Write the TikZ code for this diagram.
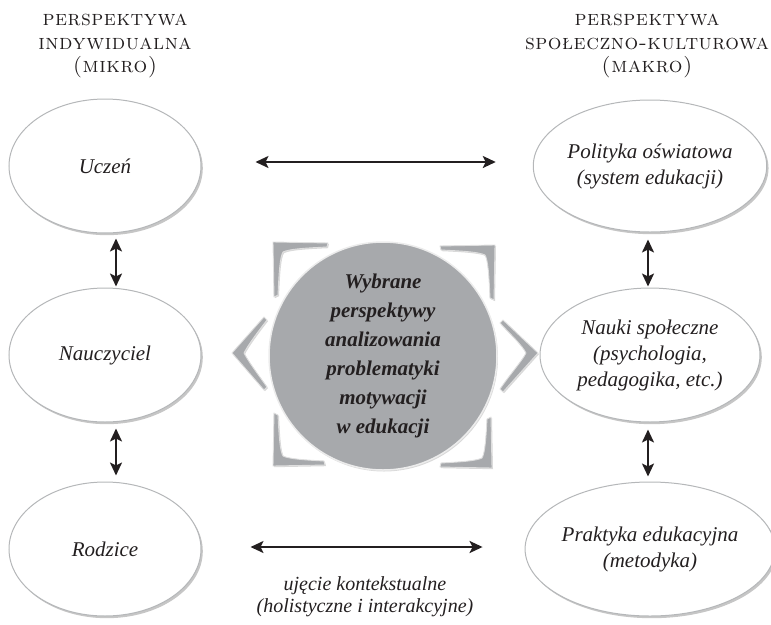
\documentclass[tikz,border=0pt]{standalone}
\usepackage{fontspec}
\setmainfont{Liberation Serif}
\usepackage{tikz}
\usetikzlibrary{shapes,shadows,arrows.meta}
\newfontfamily\headfont{lmromancaps10-regular}[Extension=.otf, LetterSpace=2.5]
\definecolor{discgray}{HTML}{A7A9AC}
\definecolor{rimgray}{HTML}{B5B7B9}
\definecolor{inkblack}{HTML}{231F20}
\tikzset{
  persp/.style={shape=ellipse, inner sep=0pt, fill=white, draw=rimgray, line width=1pt, align=center, text=inkblack,
    font=\itshape\fontsize{21}{26}\selectfont, drop shadow={shadow xshift=1.8pt, shadow yshift=-2.2pt, opacity=0.45}},
  heading/.style={align=center, text=inkblack, font=\headfont\fontsize{21.5}{23.5}\selectfont},
  twoway/.style={{Stealth[length=13pt,width=12pt,inset=3pt]}-{Stealth[length=13pt,width=12pt,inset=3pt]}, line width=2.2pt, draw=inkblack},
  boomerang/.style={fill=discgray, draw=white!75!gray, line width=0.9pt, line join=round,
    drop shadow={shadow xshift=1pt, shadow yshift=-1.2pt, opacity=0.3}}
}
\begin{document}
\begin{tikzpicture}[x=1pt, y=-1pt]
\useasboundingbox (0,0) rectangle (771,624);

% headings
\node[name=mikro, heading] at (115,46) {perspektywa\\indywidualna\\(mikro)};
\node[name=makro, heading] at (647,46) {perspektywa\\społeczno-kulturowa\\(makro)};

% left column
\node[name=uczen, persp, minimum width=192pt, minimum height=134pt] at (105,166) {Uczeń};
\node[name=nauczyciel, persp, minimum width=192pt, minimum height=134pt] at (105,355) {Nauczyciel};
\node[name=rodzice, persp, minimum width=192pt, minimum height=134pt] at (105,549) {Rodzice};

% right column
\node[name=polityka, persp, minimum width=220pt, minimum height=132pt] at (650,166) {Polityka oświatowa\\(system edukacji)};
\node[name=nauki, persp, minimum width=220pt, minimum height=134pt] at (650,355) {Nauki społeczne\\(psychologia,\\pedagogika, etc.)};
\node[name=praktyka, persp, minimum width=220pt, minimum height=134pt] at (650,549) {Praktyka edukacyjna\\(metodyka)};

% frame round the disc
\path[boomerang, shift={(273,242)}] (0,0) -- (55,1) -- (54,5) .. controls (32,6) and (16,7) .. (10,10) .. controls (7,15) and (6,30) .. (5,53) -- (1,55) -- cycle;
\path[boomerang, shift={(495,245)}, xscale=-1] (0,0) -- (55,1) -- (54,5) .. controls (32,6) and (16,7) .. (10,10) .. controls (7,15) and (6,30) .. (5,53) -- (1,55) -- cycle;
\path[boomerang, shift={(273,466)}, yscale=-1] (0,0) -- (52,1) -- (51,5) .. controls (32,6) and (16,7) .. (10,10) .. controls (7,15) and (6,30) .. (5,51) -- (1,53) -- cycle;
\path[boomerang, shift={(492,468)}, xscale=-1, yscale=-1] (0,0) -- (52,1) -- (51,5) .. controls (32,6) and (16,7) .. (10,10) .. controls (7,15) and (6,30) .. (5,49) -- (1,51) -- cycle;
\path[boomerang, shift={(232,353)}] (0,0) -- (32,-36) -- (35,-33) .. controls (25,-20) and (16,-8) .. (12,0) .. controls (16,8) and (25,20) .. (35,34) -- (32,37) -- cycle;
\path[boomerang, shift={(538,353)}, xscale=-1] (0,0) -- (35,-33) -- (38,-30) .. controls (27,-18) and (16,-8) .. (12,0) .. controls (16,8) and (27,20) .. (38,36) -- (35,39) -- cycle;

\node[name=disc, shape=circle, minimum size=228pt, inner sep=0pt, fill=discgray, draw=white!85!gray, line width=1.5pt, align=center, text=inkblack,
  font=\bfseries\itshape\fontsize{21}{29}\selectfont, drop shadow={shadow xshift=1pt, shadow yshift=-1.5pt, opacity=0.3}] at (383,356)
  {Wybrane\\perspektywy\\analizowania\\problematyki\\motywacji\\w edukacji};

% connectors
\draw[twoway, shorten <=54pt, shorten >=37pt] ([yshift=4pt]uczen.east) -- ([yshift=4pt]polityka.west);
\draw[twoway, shorten <=49pt, shorten >=42pt] ([yshift=2pt]rodzice.east) -- ([yshift=2pt]praktyka.west);
\draw[twoway, shorten <=5pt, shorten >=1pt] ([xshift=11pt]uczen.south) -- ([xshift=11pt]nauczyciel.north);
\draw[twoway, shorten <=6pt, shorten >=6pt] ([xshift=11pt]nauczyciel.south) -- ([xshift=11pt]rodzice.north);
\draw[twoway, shorten <=7pt, shorten >=1pt] ([xshift=-2pt]polityka.south) -- ([xshift=-2pt]nauki.north);
\draw[twoway, shorten <=7pt, shorten >=5pt] ([xshift=-2pt]nauki.south) -- ([xshift=-2pt]praktyka.north);

\node[name=kontekst, align=center, text=inkblack, font=\itshape\fontsize{20}{22}\selectfont] at (365,597) {ujęcie kontekstualne\\(holistyczne i interakcyjne)};
\end{tikzpicture}
\end{document}
